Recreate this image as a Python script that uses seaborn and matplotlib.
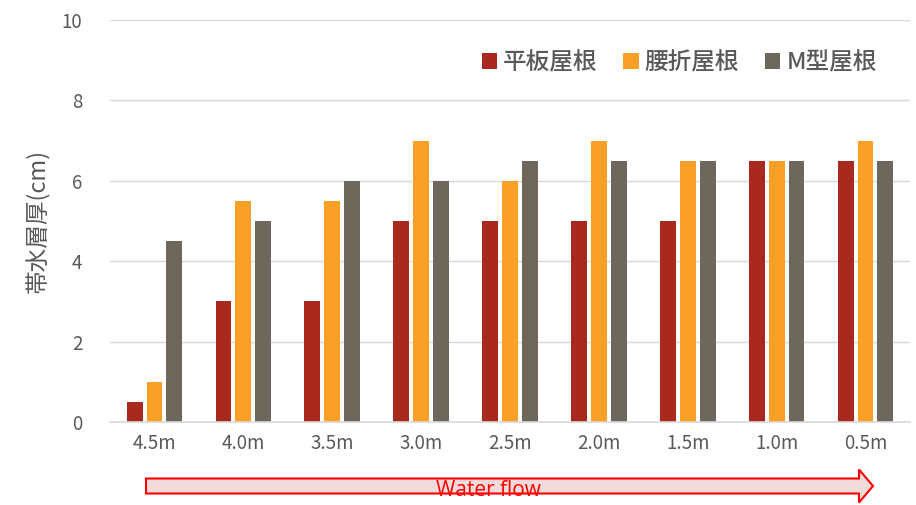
import matplotlib
matplotlib.use("Agg")
import matplotlib.pyplot as plt
import seaborn as sns
import pandas as pd
from matplotlib.patches import FancyArrow

positions = ["4.5m", "4.0m", "3.5m", "3.0m", "2.5m", "2.0m", "1.5m", "1.0m", "0.5m"]
roof_types = ["平板屋根", "腰折屋根", "M型屋根"]
flat_roof = [0.5, 3, 3, 5, 5, 5, 5, 6.5, 6.5]
gambrel_roof = [1.0, 5.5, 5.5, 7, 6, 7, 6.5, 6.5, 7]
m_roof = [4.5, 5, 6, 6, 6.5, 6.5, 6.5, 6.5, 6.5]
colors = ["#A9291F", "#FBA027", "#6E675B"]

rows = []
for name, vals in zip(roof_types, [flat_roof, gambrel_roof, m_roof]):
    for p, v in zip(positions, vals):
        rows.append({"position": p, "roof": name, "thickness": v})
df = pd.DataFrame(rows)

sns.set_theme(style="white")
plt.rcParams["font.family"] = ["Noto Sans CJK JP", "DejaVu Sans"]

fig = plt.figure(figsize=(9.16, 5.05), dpi=100)
ax = fig.add_axes([110 / 916, 1 - 422 / 505, 800 / 916, 402 / 505])

sns.barplot(data=df, x="position", y="thickness", hue="roof", order=positions,
            hue_order=roof_types, palette=colors, saturation=1, width=0.67,
            gap=0.2, linewidth=0, ax=ax, legend=True)

txt = "#595959"
ax.set_ylim(0, 10)
ax.set_yticks([0, 2, 4, 6, 8, 10])
ax.yaxis.grid(True, color="#D9D9D9", linewidth=1)
ax.set_axisbelow(True)
for s in ["top", "right", "left"]:
    ax.spines[s].set_visible(False)
ax.spines["bottom"].set_color("#D9D9D9")
ax.spines["bottom"].set_linewidth(1.2)
ax.tick_params(axis="both", length=0, labelsize=13.5, colors=txt, pad=8)
ax.tick_params(axis="y", pad=20)
ax.set_xlabel("")
ax.set_ylabel("帯水層厚(cm)", fontsize=17, color=txt, labelpad=8)
ax.set_xlim(-0.5, len(positions) - 0.5)

handles, labels = ax.get_legend_handles_labels()
leg = ax.legend(handles, labels, loc="upper right", bbox_to_anchor=(0.985, 0.975),
                ncol=3, frameon=False, handlelength=0.65,
                handleheight=0.65, handletextpad=0.25, columnspacing=1.1,
                prop={"size": 17, "weight": "medium"})
for t in leg.get_texts():
    t.set_color(txt)

# Flow direction arrow under the axis
arrow = FancyArrow(146 / 916, 1 - 486 / 505, (873 - 146) / 916, 0,
                   width=15 / 505, head_width=33 / 505, head_length=14 / 916,
                   length_includes_head=True, transform=fig.transFigure,
                   facecolor="#F2DCDB", edgecolor="#FF0000", linewidth=1.5)
fig.add_artist(arrow)
fig.text(488 / 916, 1 - 491 / 505, "Water flow", color="#FF0000", fontsize=15,
         ha="center", va="center", family=["Open Sans", "DejaVu Sans"])

fig.savefig("out.png", dpi=100)
